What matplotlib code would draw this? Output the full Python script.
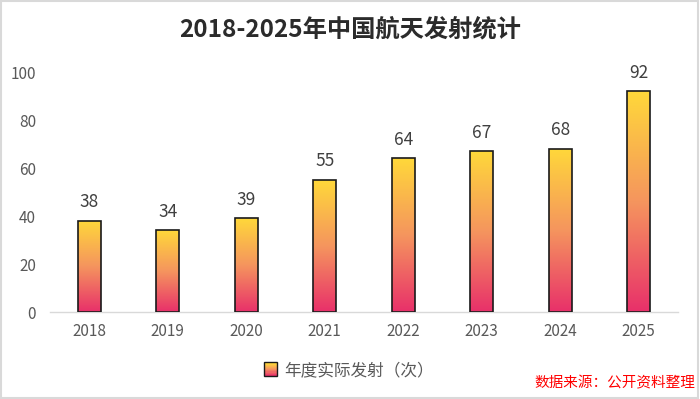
import matplotlib
matplotlib.use("Agg")
import matplotlib.pyplot as plt
import numpy as np
from matplotlib.colors import LinearSegmentedColormap
from matplotlib.patches import Rectangle
from matplotlib.legend_handler import HandlerBase

plt.rcParams['font.family'] = ['Noto Sans CJK SC', 'DejaVu Sans']

years = ['2018', '2019', '2020', '2021', '2022', '2023', '2024', '2025']
launches = [38, 34, 39, 55, 64, 67, 68, 92]
title = '2018-2025年中国航天发射统计'
legend_label = '年度实际发射（次）'
source = '数据来源：公开资料整理'

cmap = LinearSegmentedColormap.from_list('g', ['#E8306A', '#F5955E', '#FFD83A'])

fig = plt.figure(figsize=(7.0, 3.99), dpi=100)
ax = fig.add_axes([0.0714, 0.218, 0.8972, 0.6015])

x = np.arange(len(years))
bars = ax.bar(x, launches, width=0.29, facecolor='none', edgecolor='#1a1a1a', linewidth=1.2, zorder=3)
grad = np.linspace(0, 1, 256).reshape(-1, 1)
for b in bars:
    x0, y0 = b.get_x(), b.get_y()
    w, h = b.get_width(), b.get_height()
    im = ax.imshow(grad, cmap=cmap, origin='lower', aspect='auto',
                   extent=[x0, x0 + w, y0, y0 + h], zorder=2)
    clip = Rectangle((x0, y0), w, h, transform=ax.transData)
    im.set_clip_path(clip)

for xi, v in zip(x, launches):
    ax.text(xi, v + 4, str(v), ha='center', va='bottom', fontsize=12.5, color='#404040')

ax.set_xlim(-0.5, len(years) - 0.5)
ax.set_ylim(0, 100)
ax.set_xticks(x)
ax.set_xticklabels(years)
ax.set_yticks(range(0, 101, 20))
ax.tick_params(axis='both', length=0, labelsize=11, labelcolor='#595959')
ax.tick_params(axis='x', pad=8)
ax.tick_params(axis='y', pad=10)
for s in ['top', 'right', 'left']:
    ax.spines[s].set_visible(False)
ax.spines['bottom'].set_color('#D9D9D9')
ax.spines['bottom'].set_linewidth(1.0)

fig.text(0.5, 0.925, title, ha='center', va='center', fontsize=17.5, fontweight='bold', color='#2b2b2b')


class GradHandler(HandlerBase):
    def create_artists(self, legend, orig_handle, xdescent, ydescent, width, height, fontsize, trans):
        n = 12
        arts = []
        s = height * 0.9
        x0 = xdescent + (width - s) / 2
        y0 = -ydescent + (height - s) / 2
        for i in range(n):
            r = Rectangle((x0, y0 + s * i / n), s, s / n + 0.2,
                          facecolor=cmap(i / (n - 1)), edgecolor='none', transform=trans)
            arts.append(r)
        arts.append(Rectangle((x0, y0), s, s, facecolor='none',
                              edgecolor='#1a1a1a', linewidth=1.0, transform=trans))
        return arts


handle = Rectangle((0, 0), 1, 1)
leg = fig.legend([handle], [legend_label], loc='center', bbox_to_anchor=(0.497, 0.072),
                 frameon=False, fontsize=12, handler_map={Rectangle: GradHandler()},
                 handlelength=1.0, handleheight=1.0, handletextpad=0.3)
for t in leg.get_texts():
    t.set_color('#595959')

fig.text(0.993, 0.04, source, ha='right', va='center', fontsize=10.5, color='#FF0000')

fig.patches.append(Rectangle((0.001, 0.002), 0.996, 0.995, transform=fig.transFigure,
                             facecolor='none', edgecolor='#D9D9D9', linewidth=1.5))

fig.savefig('out.png', dpi=100)
